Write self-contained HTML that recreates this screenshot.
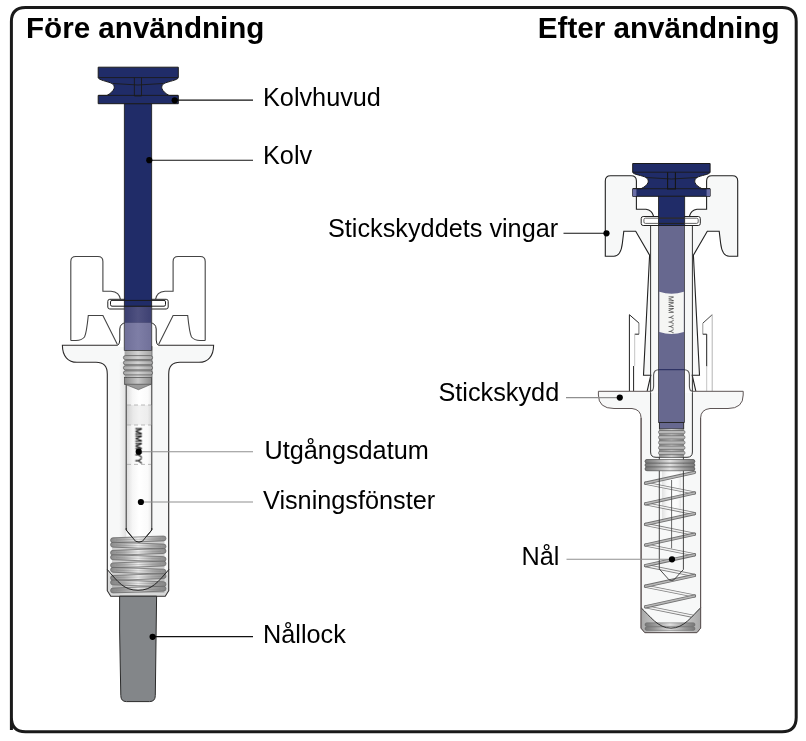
<!DOCTYPE html>
<html><head><meta charset="utf-8"><style>
html,body{margin:0;padding:0;background:#fff;}
svg{display:block;}
text{will-change:transform;}
text{font-family:"Liberation Sans",sans-serif;}
</style></head><body>
<svg width="806" height="741" viewBox="0 0 806 741">
<rect width="806" height="741" fill="#fff"/>
<defs>
<linearGradient id="gTube" x1="0" x2="1" y1="0" y2="0">
 <stop offset="0" stop-color="#dcdcdc"/><stop offset="0.25" stop-color="#f6f6f6"/><stop offset="0.5" stop-color="#ffffff"/><stop offset="0.85" stop-color="#fafafa"/><stop offset="1" stop-color="#e6e6e6"/>
</linearGradient>
<linearGradient id="gLav" x1="0" x2="1" y1="0" y2="0">
 <stop offset="0" stop-color="#6f6f98"/><stop offset="0.5" stop-color="#7e7ea6"/><stop offset="1" stop-color="#707099"/>
</linearGradient>
<linearGradient id="gLavDark" x1="0" x2="1" y1="0" y2="0">
 <stop offset="0" stop-color="#3a3e70"/><stop offset="0.5" stop-color="#4f5180"/><stop offset="1" stop-color="#3d4072"/>
</linearGradient>
<linearGradient id="gThread" x1="0" x2="1" y1="0" y2="0">
 <stop offset="0" stop-color="#8a8a8a"/><stop offset="0.5" stop-color="#c8c8c8"/><stop offset="1" stop-color="#8a8a8a"/>
</linearGradient>
<linearGradient id="gThread2" x1="0" x2="1" y1="0" y2="0">
 <stop offset="0" stop-color="#a5a5a5"/><stop offset="0.5" stop-color="#d2d2d2"/><stop offset="1" stop-color="#a5a5a5"/>
</linearGradient>
<linearGradient id="gCoil2" x1="0" x2="1" y1="0" y2="0">
 <stop offset="0" stop-color="#8a8a8a"/><stop offset="0.25" stop-color="#b0b0b0"/><stop offset="0.5" stop-color="#ececec"/><stop offset="0.75" stop-color="#b0b0b0"/><stop offset="1" stop-color="#8a8a8a"/>
</linearGradient>
<linearGradient id="gCoil" x1="0" x2="1" y1="0" y2="0">
 <stop offset="0" stop-color="#777"/><stop offset="0.2" stop-color="#9a9a9a"/><stop offset="0.5" stop-color="#e0e0e0"/><stop offset="0.8" stop-color="#9a9a9a"/><stop offset="1" stop-color="#777"/>
</linearGradient>
<linearGradient id="gBottom" x1="0" x2="1" y1="0" y2="0">
 <stop offset="0" stop-color="#a8a8a8"/><stop offset="0.5" stop-color="#e8e8e8"/><stop offset="1" stop-color="#a8a8a8"/>
</linearGradient>
</defs>
<path d="M11.4,730 V21.5 Q11.4,7.4 25.5,7.4 H782 Q796.2,7.4 796.2,21.5 V717.5 Q796.2,731.7 782,731.7 H25.5 Q11.4,731.7 11.4,717.5 Z" fill="none" stroke="#1a1a1a" stroke-width="3"/>
<text x="26" y="37.6" font-family="Liberation Sans" font-weight="bold" font-size="29.6" fill="#000">Före användning</text>
<text x="779.5" y="37.6" text-anchor="end" font-family="Liberation Sans" font-weight="bold" font-size="29.6" fill="#000">Efter användning</text>
<text x="263" y="106.3" font-family="Liberation Sans" font-size="25.25" fill="#000">Kolvhuvud</text>
<text x="263" y="163.9" font-family="Liberation Sans" font-size="25.25" fill="#000">Kolv</text>
<text x="264.5" y="458.9" font-family="Liberation Sans" font-size="25.25" fill="#000">Utgångsdatum</text>
<text x="263" y="508.6" font-family="Liberation Sans" font-size="25.25" fill="#000">Visningsfönster</text>
<text x="263" y="642.7" font-family="Liberation Sans" font-size="25.25" fill="#000">Nållock</text>
<text x="328" y="237.4" font-family="Liberation Sans" font-size="25.25" fill="#000">Stickskyddets vingar</text>
<text x="438.5" y="401" font-family="Liberation Sans" font-size="25.25" fill="#000">Stickskydd</text>
<text x="521.4" y="564.7" font-family="Liberation Sans" font-size="25.25" fill="#000">Nål</text>
<path d="M70.8,340.5 V261.5 Q70.8,256.5 75.8,256.5 H97.9 Q102.9,256.5 102.9,261.5 V291.2 H111 Q119.5,292 120.5,299.5" fill="none" stroke="#444" stroke-width="1.1"/>
<path d="M 205.20,340.5 V 261.5 Q 205.20,256.5 200.20,256.5 H 178.10 Q 173.10,256.5 173.10,261.5 V 291.2 H 165.00 Q 156.50,292 155.50,299.5" fill="none" stroke="#444" stroke-width="1.1"/>
<path d="M117.4,344.5 L102.9,315.5 H88.3 Q86.5,333 84.5,337 Q81.5,340.5 76,340.5 H70.8" fill="none" stroke="#444" stroke-width="1.1"/>
<path d="M 158.60,344.5 L 173.10,315.5 H 187.70 Q 189.50,333 191.50,337 Q 194.50,340.5 200.00,340.5 H 205.20" fill="none" stroke="#444" stroke-width="1.1"/>
<path d="M62.4,345.2 H213.6 C213.6,356 208,362.3 199,362.3 H180 C172,362.3 168.7,366 168.7,374 V590.7 L165.2,596.2 H110.8 L107.3,590.7 V374 C107.3,366 104,362.3 96,362.3 H77 C68,362.3 62.4,356 62.4,345.2 Z" fill="#f7f8f8" stroke="#2c2a2a" stroke-width="1.1"/>
<path d="M117.5,345.2 Q119.5,345 119.8,340 V329 Q120.2,323 126,322.9 H150 Q155.8,323 156.2,329 V340 Q156.5,345 158.5,345.2 V347 H117.5 Z" fill="#fff" stroke="none"/>
<path d="M117.5,345.2 Q119.5,345 119.8,340 V329 Q120.2,323 126,322.9 H150 Q155.8,323 156.2,329 V340 Q156.5,345 158.5,345.2" fill="none" stroke="#222" stroke-width="1"/>
<defs><linearGradient id="gShade" x1="0" x2="1" y1="0" y2="0"><stop offset="0" stop-color="#e2e2e2" stop-opacity="0"/><stop offset="1" stop-color="#dcdcdc" stop-opacity="0.9"/></linearGradient></defs>
<rect x="119" y="362" width="7.2" height="207" fill="url(#gShade)"/>
<path d="M126.2,346 V530 L135.5,541.2 Q139,543 142.5,541.2 L151.8,530 V346" fill="url(#gTube)" stroke="#333" stroke-width="1"/>
<rect x="127" y="405" width="24.2" height="20" fill="url(#gTube)"/><rect x="127" y="405" width="24.2" height="20" fill="#000" opacity="0.05"/>
<line x1="127" y1="405" x2="151" y2="405" stroke="#aaa" stroke-width="0.8" stroke-dasharray="4,3"/>
<line x1="127" y1="425" x2="151" y2="425" stroke="#aaa" stroke-width="0.8" stroke-dasharray="4,3"/>
<line x1="127" y1="464.4" x2="151" y2="464.4" stroke="#aaa" stroke-width="0.8" stroke-dasharray="4,3"/>
<text transform="translate(135.6,427.6) rotate(90)" font-family="Liberation Sans" font-size="8.4" textLength="36" lengthAdjust="spacingAndGlyphs" fill="#000" stroke="#000" stroke-width="0.3">MMM YY</text>
<rect x="107.8" y="299.3" width="60.4" height="9.7" rx="2" fill="#fff" stroke="#222" stroke-width="1"/>
<rect x="124.3" y="103.7" width="27.4" height="203" fill="#202c68" stroke="#1b1b1b" stroke-width="0.8"/>
<rect x="124.3" y="306.7" width="27.4" height="16.2" fill="url(#gLavDark)"/>
<rect x="124.3" y="322.9" width="27.4" height="27.6" fill="url(#gLav)"/>
<line x1="124.3" y1="306.7" x2="124.3" y2="350.5" stroke="#333" stroke-width="0.8"/><line x1="151.7" y1="306.7" x2="151.7" y2="350.5" stroke="#333" stroke-width="0.8"/>
<rect x="124.6" y="350.5" width="27" height="27" fill="url(#gThread2)"/><line x1="124.3" y1="350.5" x2="151.7" y2="350.5" stroke="#333" stroke-width="0.8"/>
<rect x="123.4" y="355.6" width="29.2" height="4" rx="2" fill="url(#gThread2)" stroke="#555" stroke-width="0.7"/>
<rect x="123.4" y="360.7" width="29.2" height="4" rx="2" fill="url(#gThread2)" stroke="#555" stroke-width="0.7"/>
<rect x="123.4" y="365.8" width="29.2" height="4" rx="2" fill="url(#gThread2)" stroke="#555" stroke-width="0.7"/>
<rect x="123.4" y="370.9" width="29.2" height="4" rx="2" fill="url(#gThread2)" stroke="#555" stroke-width="0.7"/>
<rect x="124.6" y="377.5" width="27" height="6.8" fill="url(#gThread)" stroke="#444" stroke-width="0.7"/>
<path d="M125,384.3 H151.2 L138.5,389.7 Z" fill="#9a9a9a" stroke="#555" stroke-width="0.6"/>
<rect x="110.5" y="300.4" width="55" height="5.8" rx="1.5" fill="none" stroke="#1a1a1a" stroke-width="1"/>
<rect x="112" y="537.5" width="52.5" height="55.5" fill="#cfcfcf"/>
<path d="M113,537.80 L163.5,536.00 Q166,536.00 166,538.45 Q166,540.90 163.5,540.90 L113,542.70 Q110.5,542.70 110.5,540.25 Q110.5,537.80 113,537.80 Z" fill="url(#gCoil2)" stroke="#5c5c5c" stroke-width="0.65"/>
<path d="M116,539.94 C130,539.22 148,539.58 161,538.86" fill="none" stroke="#777" stroke-width="0.5" opacity="0.6"/>
<path d="M113,542.28 L163.5,544.08 Q166,544.08 166,546.53 Q166,548.98 163.5,548.98 L113,547.18 Q110.5,547.18 110.5,544.73 Q110.5,542.28 113,542.28 Z" fill="url(#gCoil2)" stroke="#5c5c5c" stroke-width="0.65"/>
<path d="M116,545.14 C130,545.86 148,545.50 161,546.22" fill="none" stroke="#777" stroke-width="0.5" opacity="0.6"/>
<path d="M113,550.36 L163.5,548.56 Q166,548.56 166,551.01 Q166,553.46 163.5,553.46 L113,555.26 Q110.5,555.26 110.5,552.81 Q110.5,550.36 113,550.36 Z" fill="url(#gCoil2)" stroke="#5c5c5c" stroke-width="0.65"/>
<path d="M116,552.50 C130,551.78 148,552.14 161,551.42" fill="none" stroke="#777" stroke-width="0.5" opacity="0.6"/>
<path d="M113,554.84 L163.5,556.64 Q166,556.64 166,559.09 Q166,561.54 163.5,561.54 L113,559.74 Q110.5,559.74 110.5,557.29 Q110.5,554.84 113,554.84 Z" fill="url(#gCoil2)" stroke="#5c5c5c" stroke-width="0.65"/>
<path d="M116,557.70 C130,558.42 148,558.06 161,558.78" fill="none" stroke="#777" stroke-width="0.5" opacity="0.6"/>
<path d="M113,562.92 L163.5,561.12 Q166,561.12 166,563.57 Q166,566.02 163.5,566.02 L113,567.82 Q110.5,567.82 110.5,565.37 Q110.5,562.92 113,562.92 Z" fill="url(#gCoil2)" stroke="#5c5c5c" stroke-width="0.65"/>
<path d="M116,565.06 C130,564.34 148,564.70 161,563.98" fill="none" stroke="#777" stroke-width="0.5" opacity="0.6"/>
<path d="M113,567.40 L163.5,569.20 Q166,569.20 166,571.65 Q166,574.10 163.5,574.10 L113,572.30 Q110.5,572.30 110.5,569.85 Q110.5,567.40 113,567.40 Z" fill="url(#gCoil2)" stroke="#5c5c5c" stroke-width="0.65"/>
<path d="M116,570.26 C130,570.98 148,570.62 161,571.34" fill="none" stroke="#777" stroke-width="0.5" opacity="0.6"/>
<path d="M113,575.48 L163.5,573.68 Q166,573.68 166,576.13 Q166,578.58 163.5,578.58 L113,580.38 Q110.5,580.38 110.5,577.93 Q110.5,575.48 113,575.48 Z" fill="url(#gCoil2)" stroke="#5c5c5c" stroke-width="0.65"/>
<path d="M116,577.62 C130,576.90 148,577.26 161,576.54" fill="none" stroke="#777" stroke-width="0.5" opacity="0.6"/>
<path d="M113,579.96 L163.5,581.76 Q166,581.76 166,584.21 Q166,586.66 163.5,586.66 L113,584.86 Q110.5,584.86 110.5,582.41 Q110.5,579.96 113,579.96 Z" fill="url(#gCoil2)" stroke="#5c5c5c" stroke-width="0.65"/>
<path d="M116,582.82 C130,583.54 148,583.18 161,583.90" fill="none" stroke="#777" stroke-width="0.5" opacity="0.6"/>
<path d="M113,588.04 L163.5,586.24 Q166,586.24 166,588.69 Q166,591.14 163.5,591.14 L113,592.94 Q110.5,592.94 110.5,590.49 Q110.5,588.04 113,588.04 Z" fill="url(#gCoil2)" stroke="#5c5c5c" stroke-width="0.65"/>
<path d="M116,590.18 C130,589.46 148,589.82 161,589.10" fill="none" stroke="#777" stroke-width="0.5" opacity="0.6"/>
<path d="M107.3,569.5 C118,582 124,590.3 138,590.3 C152,590.3 158,582 168.9,569.5 V590.7 L165.4,596.2 H110.8 L107.3,590.7 Z" fill="#6d6d6d" opacity="0.22"/>
<path d="M107.3,569.5 C118,582 124,590.3 138,590.3 C152,590.3 158,582 168.9,569.5" fill="none" stroke="#222" stroke-width="1"/>
<path d="M126.2,528 V530 L135.5,541.2 Q139,543 142.5,541.2 L151.8,530 V528" fill="none" stroke="#222" stroke-width="1"/>
<path d="M119.6,596.2 H156.6 L155.3,695.5 Q155.3,701.6 149.5,701.6 H126.5 Q120.8,701.6 120.8,695.5 L119.6,630 Z" fill="#838689" stroke="#2a2a2a" stroke-width="1"/>
<path d="M98.2,67.2 H178.3 V77.6 C178.3,80 168,81.5 164,83.5 C160,86 161,91 169,95.4 H178.3 V103.7 H98.2 V95.4 H107 C115,91 116,86 112,83.5 C108,81.5 98.2,80 98.2,77.6 Z" fill="#202c68" stroke="#1b1b1b" stroke-width="1"/>
<path d="M98.5,77.6 H178" stroke="#1b1b1b" stroke-width="0.9"/>
<path d="M98.5,95.4 H178" stroke="#1b1b1b" stroke-width="0.9"/>
<path d="M113,83.5 Q138,86.5 163,83.5" fill="none" stroke="#1b1b1b" stroke-width="0.9"/>
<path d="M134.4,77.6 V96 H141.5 V77.6" fill="none" stroke="#1b1b1b" stroke-width="0.9"/>
<line x1="174.7" y1="100.1" x2="253" y2="100.1" stroke="#111" stroke-width="1.1"/>
<circle cx="174.7" cy="100.3" r="3.1" fill="#000"/>
<line x1="149.3" y1="160.2" x2="253" y2="160.2" stroke="#111" stroke-width="1.1"/>
<circle cx="149.3" cy="160.2" r="3.1" fill="#000"/>
<line x1="138.7" y1="451.7" x2="253" y2="451.7" stroke="#8f8f8f" stroke-width="1.1"/>
<circle cx="138.7" cy="451.7" r="3.1" fill="#000"/>
<line x1="140.9" y1="502" x2="253" y2="502" stroke="#8f8f8f" stroke-width="1.1"/>
<circle cx="140.9" cy="502" r="3.1" fill="#000"/>
<line x1="152.6" y1="636.6" x2="253" y2="636.6" stroke="#111" stroke-width="1.1"/>
<circle cx="152.6" cy="636.8" r="3.1" fill="#000"/>
<path d="M653.5,216 Q652,210 646,209.2 H636.4 V181 Q636.4,175.8 631.2,175.8 H610.5 Q605.3,175.8 605.3,181 V256.2 H613.9 C619.5,256.2 621.6,250 622.4,243 L623.8,231.3 H635.7 L649.6,255.2 L643.5,375.2 H650.8 L647.1,391.3 H671.5 V216 Z" fill="#f7f8f8" stroke="none"/>
<path d="M 689.50,216 Q 691.00,210 697.00,209.2 H 706.60 V 181 Q 706.60,175.8 711.80,175.8 H 732.50 Q 737.70,175.8 737.70,181 V 256.2 H 729.10 C 723.50,256.2 721.40,250 720.60,243 L 719.20,231.3 H 707.30 L 693.40,255.2 L 699.50,375.2 H 692.20 L 695.90,391.3 H671.5 V216 Z" fill="#f7f8f8" stroke="none"/>
<path d="M653.5,216 Q652,210 646,209.2 H636.4 V181 Q636.4,175.8 631.2,175.8 H610.5 Q605.3,175.8 605.3,181 V256.2 H613.9 C619.5,256.2 621.6,250 622.4,243 L623.8,231.3 H635.7 L649.6,255.2 L643.5,375.2 H650.8 L647.1,391.3" fill="none" stroke="#222" stroke-width="1.1"/>
<path d="M 689.50,216 Q 691.00,210 697.00,209.2 H 706.60 V 181 Q 706.60,175.8 711.80,175.8 H 732.50 Q 737.70,175.8 737.70,181 V 256.2 H 729.10 C 723.50,256.2 721.40,250 720.60,243 L 719.20,231.3 H 707.30 L 693.40,255.2 L 699.50,375.2 H 692.20 L 695.90,391.3" fill="none" stroke="#222" stroke-width="1.1"/>
<path d="M629.4,391.3 V314.7 L638.9,323 V334.2 H634.7 V391.3 Z" fill="#fff"/>
<path d="M629.4,391.3 V314.7 L638.9,323" fill="none" stroke="#222" stroke-width="1"/>
<path d="M638.9,323 V334.2" fill="none" stroke="#777" stroke-width="1"/>
<path d="M638.9,334.2 H634.7" fill="none" stroke="#222" stroke-width="1"/>
<path d="M634.7,334.2 V366" fill="none" stroke="#c4c4c4" stroke-width="1"/>
<path d="M633.6,366 V391.3" fill="none" stroke="#222" stroke-width="1"/>
<path d="M712.2,391.3 V314.7 L702.8,323.2 V334.2 H706.7 V391.3 Z" fill="#fff"/>
<path d="M712.2,314.7 L702.8,323.2" fill="none" stroke="#444" stroke-width="1"/>
<path d="M702.8,323.2 V334.2" fill="none" stroke="#999" stroke-width="1"/>
<path d="M702.8,334.2 H706.7 V366.4" fill="none" stroke="#222" stroke-width="1"/>
<path d="M706.7,366.4 V391.3" fill="none" stroke="#c4c4c4" stroke-width="1"/>
<path d="M712.2,314.7 V391.3" fill="none" stroke="#b4b4b4" stroke-width="1"/>
<path d="M598.4,391.3 H743.2 V395 Q743.2,408.5 728,408.5 H710 Q700.8,409.5 700.6,418 V628.2 L696.9,632.6 H644.8 L641.1,628.2 V418 Q641,409.5 632,408.5 H614 Q598.4,408.5 598.4,395 Z" fill="#f7f8f8" stroke="#5e5555" stroke-width="1"/>
<path d="M650.6,223.7 V452 Q650.6,457.3 656,457.3 H687 Q692.4,457.3 692.4,452 V223.7" fill="none" stroke="#333" stroke-width="1"/>
<path d="M650.8,391.3 Q653.6,391 653.6,386 V375 Q653.8,370 658.5,369.8 H684.5 Q689.2,370 689.4,375 V386 Q689.4,391 692.2,391.3 V393 H650.8 Z" fill="#fbfbfb" stroke="none"/>
<path d="M650.8,391.3 Q653.6,391 653.6,386 V375 Q653.8,370 658.5,369.8 H684.5 Q689.2,370 689.4,375 V386 Q689.4,391 692.2,391.3" fill="none" stroke="#555" stroke-width="1.1"/>
<rect x="658.4" y="225.4" width="26.2" height="197.1" fill="#67688f" stroke="#333" stroke-width="0.7"/>
<path d="M659.4,291.8 Q671.5,295.5 683.8,291.8 V332 Q671.5,336 659.4,332 Z" fill="#f5f6f4"/>
<text transform="translate(668.6,296) rotate(90)" font-family="Liberation Sans" font-size="7.2" textLength="37.5" lengthAdjust="spacingAndGlyphs" fill="#222">MMM YYYY</text>
<line x1="658.4" y1="369.7" x2="684.6" y2="369.7" stroke="#1a1f55" stroke-width="0.9"/>
<rect x="659.4" y="422.5" width="24.3" height="6.4" fill="#67688f" stroke="#222" stroke-width="0.9"/>
<rect x="659" y="428.9" width="25" height="28.4" fill="url(#gThread)"/>
<rect x="658.5" y="430.5" width="26.5" height="3.3" rx="1.5" fill="#b8b8b8" stroke="#555" stroke-width="0.6"/>
<rect x="658.5" y="435.7" width="26.5" height="3.3" rx="1.5" fill="#b8b8b8" stroke="#555" stroke-width="0.6"/>
<rect x="658.5" y="440.9" width="26.5" height="3.3" rx="1.5" fill="#b8b8b8" stroke="#555" stroke-width="0.6"/>
<rect x="658.5" y="446.1" width="26.5" height="3.3" rx="1.5" fill="#b8b8b8" stroke="#555" stroke-width="0.6"/>
<rect x="658.5" y="451.3" width="26.5" height="3.3" rx="1.5" fill="#b8b8b8" stroke="#555" stroke-width="0.6"/>
<rect x="662" y="470" width="19" height="50" fill="url(#gTube)" opacity="0.8"/>
<rect x="645.1" y="459.5" width="49.7" height="3.6" rx="1.8" fill="url(#gCoil)" stroke="#555" stroke-width="0.5"/>
<rect x="645.1" y="463.3" width="49.7" height="3.6" rx="1.8" fill="url(#gCoil)" stroke="#555" stroke-width="0.5"/>
<rect x="645.1" y="467.1" width="49.7" height="3.6" rx="1.8" fill="url(#gCoil)" stroke="#555" stroke-width="0.5"/>
<path d="M645.5,483.2 L694.5,493.0 M645.5,503.8 L694.5,513.6 M645.5,524.4 L694.5,534.2 M645.5,545.0 L694.5,554.8 M645.5,565.6 L694.5,575.4 M645.5,586.2 L694.5,596.0 M645.5,606.8 L694.5,616.6" fill="none" stroke="#808080" stroke-width="3.2" stroke-linecap="round"/>
<path d="M645.5,483.2 L694.5,493.0 M645.5,503.8 L694.5,513.6 M645.5,524.4 L694.5,534.2 M645.5,545.0 L694.5,554.8 M645.5,565.6 L694.5,575.4 M645.5,586.2 L694.5,596.0 M645.5,606.8 L694.5,616.6" fill="none" stroke="#f2f2f2" stroke-width="1.5" stroke-linecap="round"/>
<path d="M694.5,472.4 L645.5,483.2 M694.5,493.0 L645.5,503.8 M694.5,513.6 L645.5,524.4 M694.5,534.2 L645.5,545.0 M694.5,554.8 L645.5,565.6 M694.5,575.4 L645.5,586.2 M694.5,596.0 L645.5,606.8" fill="none" stroke="#707070" stroke-width="3.3" stroke-linecap="round"/>
<path d="M694.5,472.4 L645.5,483.2 M694.5,493.0 L645.5,503.8 M694.5,513.6 L645.5,524.4 M694.5,534.2 L645.5,545.0 M694.5,554.8 L645.5,565.6 M694.5,575.4 L645.5,586.2 M694.5,596.0 L645.5,606.8" fill="none" stroke="#b8b8b8" stroke-width="1.5" stroke-linecap="round"/>
<path d="M659.3,457 V569 L669,579.8 Q671.5,581.2 674,579.8 L683.4,569.5 V457" fill="none" stroke="#333" stroke-width="0.9"/>
<line x1="671.6" y1="480" x2="671.6" y2="548.3" stroke="#444" stroke-width="0.8"/>
<rect x="645.1" y="459.5" width="49.7" height="3.6" rx="1.8" fill="url(#gCoil)" stroke="#555" stroke-width="0.5"/>
<rect x="645.1" y="463.3" width="49.7" height="3.6" rx="1.8" fill="url(#gCoil)" stroke="#555" stroke-width="0.5"/>
<rect x="645.1" y="467.1" width="49.7" height="3.6" rx="1.8" fill="url(#gCoil)" stroke="#555" stroke-width="0.5"/>
<path d="M641.1,607.8 C650,616 658,628.2 671,628.2 C684,628.2 692,616 700.6,607.8 V628.2 L696.9,632.6 H644.8 L641.1,628.2 Z" fill="url(#gBottom)" stroke="none"/>
<rect x="645" y="622.8" width="50" height="3.6" rx="1.6" fill="url(#gCoil)" stroke="#666" stroke-width="0.5"/>
<rect x="645" y="626.8" width="50" height="3.6" rx="1.6" fill="url(#gCoil)" stroke="#666" stroke-width="0.5"/>
<path d="M641.1,607.8 C650,616 658,628.2 671,628.2 C684,628.2 692,616 700.6,607.8" fill="none" stroke="#222" stroke-width="0.9"/>
<path d="M641.1,418 V628.2 L644.8,632.6 H696.9 L700.6,628.2 V418" fill="none" stroke="#5e5555" stroke-width="1"/>
<rect x="641.2" y="216.5" width="59.1" height="9" rx="2" fill="#fff" stroke="#222" stroke-width="1"/>
<path d="M632.7,163.5 H710.1 V172.2 C710.1,174.5 700,175.5 697,177.5 C693,180 694,185 702,188.7 H710.1 V196.3 H632.7 V188.7 H641 C649,185 650,180 646,177.5 C643,175.5 632.7,174.5 632.7,172.2 Z" fill="#202c68" stroke="#1b1b1b" stroke-width="1"/>
<rect x="632.7" y="188.9" width="3.7" height="7.2" fill="#6a6ea6"/>
<rect x="706.6" y="188.9" width="3.5" height="7.2" fill="#6a6ea6"/>
<path d="M633,172.2 H710" stroke="#1b1b1b" stroke-width="0.9"/>
<path d="M633,188.7 H710" stroke="#1b1b1b" stroke-width="0.9"/>
<path d="M646,177.5 Q671.5,180.5 697,177.5" fill="none" stroke="#1b1b1b" stroke-width="0.9"/>
<path d="M667.6,172.2 V189 H675.4 V172.2" fill="none" stroke="#161616" stroke-width="1.1"/>
<rect x="658.5" y="196.3" width="26.2" height="29.1" fill="#202c68" stroke="#1b1b1b" stroke-width="0.8"/>
<rect x="643.9" y="218.2" width="54.3" height="5.2" rx="1.5" fill="none" stroke="#555" stroke-width="0.9"/><line x1="658.5" y1="218.1" x2="684.6" y2="218.1" stroke="#1a1a1a" stroke-width="0.9"/><line x1="658.5" y1="223.4" x2="684.6" y2="223.4" stroke="#1a1a1a" stroke-width="0.9"/>
<line x1="563.5" y1="233.3" x2="606.5" y2="233.3" stroke="#111" stroke-width="1.1"/>
<circle cx="606.5" cy="233.3" r="3.1" fill="#000"/>
<line x1="566" y1="397.6" x2="619.8" y2="397.6" stroke="#8f8f8f" stroke-width="1.1"/>
<circle cx="619.8" cy="397.6" r="3.1" fill="#000"/>
<line x1="566.5" y1="559.3" x2="672" y2="559.3" stroke="#8f8f8f" stroke-width="1.1"/>
<circle cx="672" cy="559.3" r="3.1" fill="#000"/>
</svg>
</body></html>
